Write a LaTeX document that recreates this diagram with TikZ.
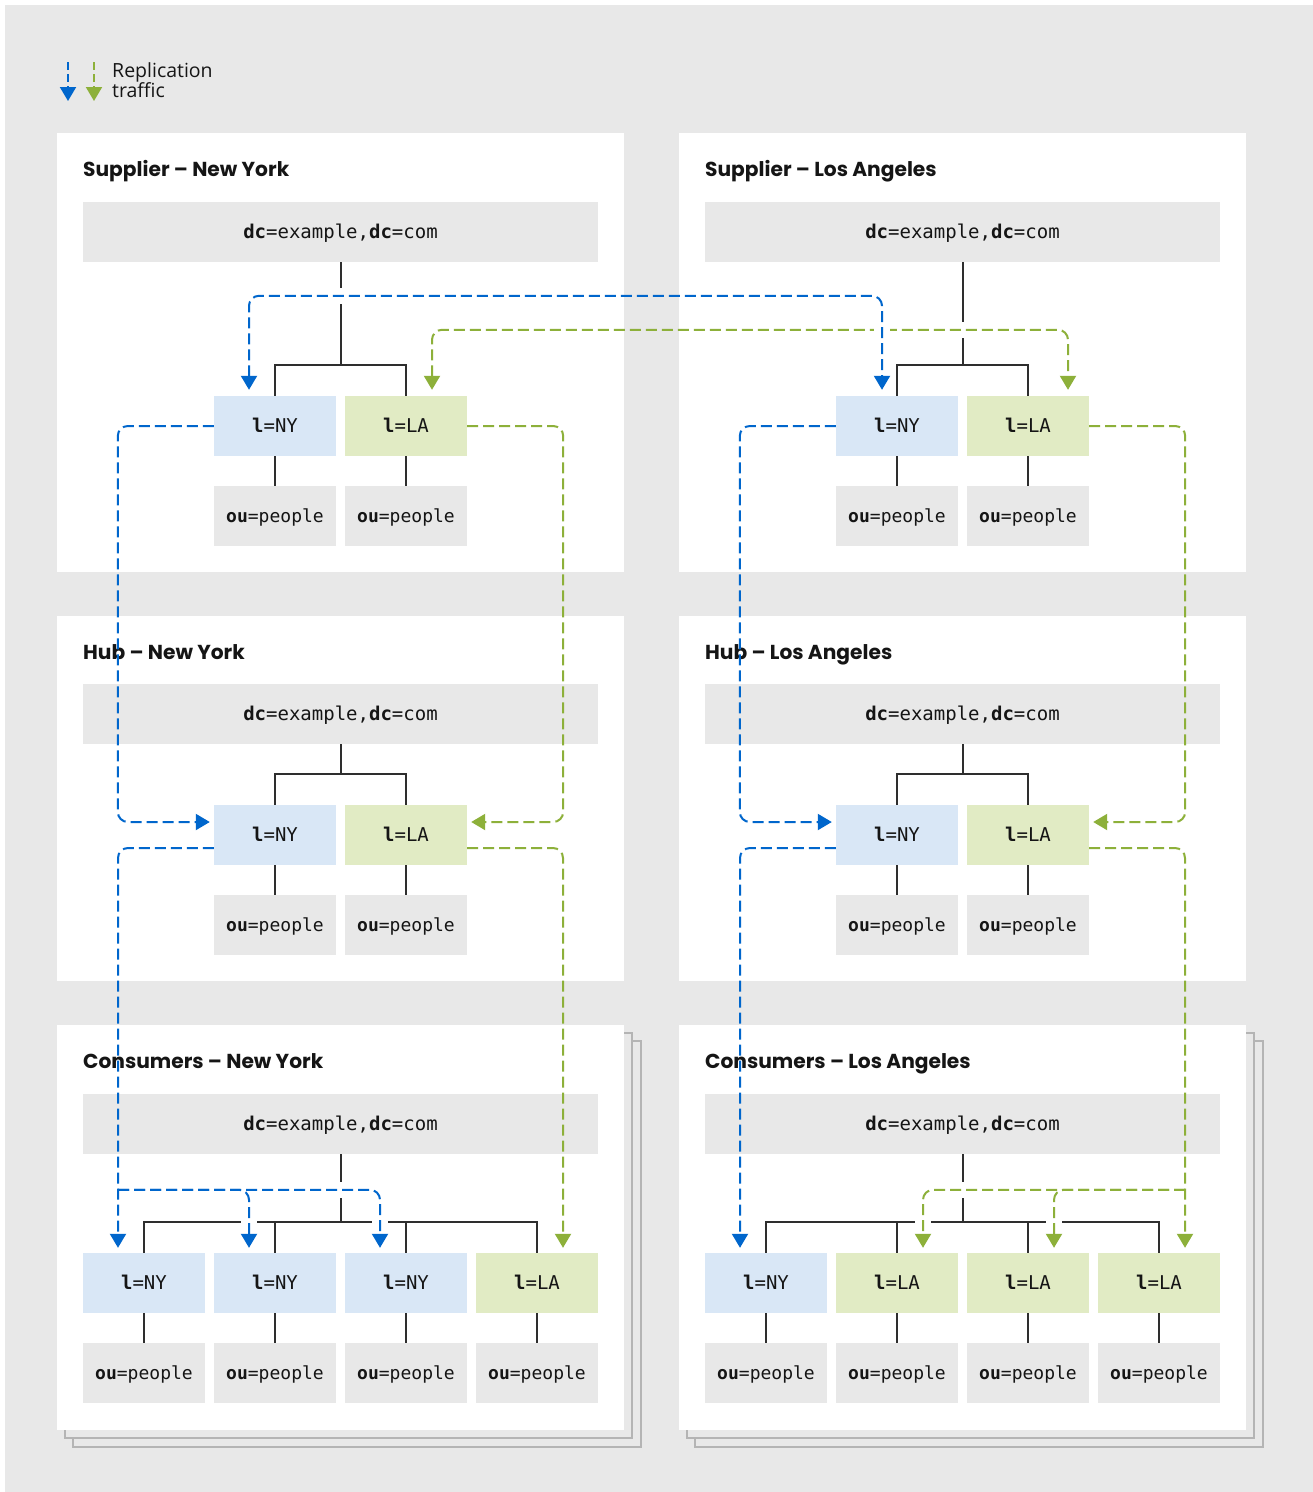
\documentclass[tikz,border=0pt]{standalone}
\usepackage{fontspec}
\setmainfont{Open Sans}
\newfontfamily\monof{DejaVu Sans Mono}
\newfontfamily\titlef{Poppins}
\usetikzlibrary{arrows.meta,calc}
\definecolor{bgc}{HTML}{E8E8E8}
\definecolor{boxc}{HTML}{E8E8E8}
\definecolor{lblue}{HTML}{D9E7F6}
\definecolor{lgreen}{HTML}{E1EBC4}
\definecolor{rblue}{HTML}{0066CC}
\definecolor{rgreen}{HTML}{8DB03A}
\definecolor{txt}{HTML}{151515}
\definecolor{treec}{HTML}{2E2E2E}
\definecolor{shadc}{HTML}{B4B4B4}
\newcommand{\kv}[2]{\textbf{#1}=#2}
\newcommand{\dctext}{\kv{dc}{example},\kv{dc}{com}}
\newcommand{\outext}{\kv{ou}{people}}
\begin{document}
\begin{tikzpicture}[x=1pt,y=-1pt,
  >={Triangle[length=14pt,width=16pt]},
  box/.style={inner sep=0pt, text height=15pt, text depth=3pt, font=\monof\fontsize{19}{22}\selectfont, text=txt, minimum height=60pt},
  dcbox/.style={box, fill=boxc, minimum width=515pt},
  nybox/.style={box, fill=lblue, minimum width=122pt},
  labox/.style={box, fill=lgreen, minimum width=122pt},
  oubox/.style={box, fill=boxc, minimum width=122pt, font=\monof\fontsize{18}{22}\selectfont},
  title/.style={anchor=base west, inner sep=0pt, font=\titlef\fontsize{20.2}{24}\selectfont\bfseries, text=txt},
  legend/.style={anchor=base west, inner sep=0pt, font=\fontsize{19.5}{22}\selectfont, text=txt},
  tree/.style={draw=treec, line width=2pt},
  rep/.style={line width=2pt, dash pattern=on 11pt off 5pt, rounded corners=10pt},
  repb/.style={rep, draw=rblue},
  repg/.style={rep, draw=rgreen},
  panel/.style={fill=white},
  shadow/.style={fill=bgc, draw=shadc, line width=2pt},
  gap/.style={fill=white}
]
\useasboundingbox (0,0) rectangle (1313,1492);
\fill[white] (0,0) rectangle (1313,1492);
\fill[bgc] (5,5) rectangle (1313,1492);

% legend
\coordinate (lgb1) at (68,62); \coordinate (lgb2) at (68,101);
\coordinate (lgg1) at (94,62); \coordinate (lgg2) at (94,101);
\draw[repb, dash pattern=on 8pt off 4pt, rounded corners=0pt, ->] (lgb1) -- (lgb2);
\draw[repg, dash pattern=on 8pt off 4pt, rounded corners=0pt, ->] (lgg1) -- (lgg2);
\node[legend] (leg1) at (112,77) {Replication};
\node[legend] (leg2) at (112,97) {traffic};

\foreach \p/\dx/\city in {ny/0/New York,la/622/Los Angeles}{
  % supplier
  \fill[panel] (57+\dx,133) rectangle (624+\dx,572);
  \node[title] (st\p) at (83+\dx,176) {Supplier – \city};
  \node[dcbox] (sdc\p) at (340.5+\dx,232) {\dctext};
  \node[nybox] (s\p1) at (275+\dx,426) {\kv{l}{NY}};
  \node[labox] (s\p2) at (406+\dx,426) {\kv{l}{LA}};
  \node[oubox] (so\p1) at (275+\dx,516) {\outext};
  \node[oubox] (so\p2) at (406+\dx,516) {\outext};
  \coordinate (sj\p) at (340.5+\dx,365);
  \draw[tree] (sdc\p.south) -- (sj\p);
  \draw[tree] (s\p1.north) |- (sj\p) -| (s\p2.north);
  \draw[tree] (s\p1.south) -- (so\p1.north);
  \draw[tree] (s\p2.south) -- (so\p2.north);
  % hub
  \fill[panel] (57+\dx,616) rectangle (624+\dx,981);
  \node[title] (ht\p) at (83+\dx,659) {Hub – \city};
  \node[dcbox] (hdc\p) at (340.5+\dx,714) {\dctext};
  \node[nybox] (h\p1) at (275+\dx,835) {\kv{l}{NY}};
  \node[labox] (h\p2) at (406+\dx,835) {\kv{l}{LA}};
  \node[oubox] (ho\p1) at (275+\dx,925) {\outext};
  \node[oubox] (ho\p2) at (406+\dx,925) {\outext};
  \coordinate (hj\p) at (340.5+\dx,774);
  \draw[tree] (hdc\p.south) -- (hj\p);
  \draw[tree] (h\p1.north) |- (hj\p) -| (h\p2.north);
  \draw[tree] (h\p1.south) -- (ho\p1.north);
  \draw[tree] (h\p2.south) -- (ho\p2.north);
  % consumers
  \draw[shadow] (73+\dx,1041) rectangle (641+\dx,1447);
  \draw[shadow] (65+\dx,1033) rectangle (632+\dx,1438);
  \fill[panel] (57+\dx,1025) rectangle (624+\dx,1430);
  \node[title] (ct\p) at (83+\dx,1068) {Consumers – \city};
  \node[dcbox] (cdc\p) at (340.5+\dx,1124) {\dctext};
  \foreach \i/\x in {1/144,2/275,3/406,4/537}{
    \node[oubox] (co\p\i) at (\x+\dx,1373) {\outext};
  }
}

% consumer l boxes
\node[nybox] (cny1) at (144,1283) {\kv{l}{NY}};
\node[nybox] (cny2) at (275,1283) {\kv{l}{NY}};
\node[nybox] (cny3) at (406,1283) {\kv{l}{NY}};
\node[labox] (cny4) at (537,1283) {\kv{l}{LA}};
\node[nybox] (cla1) at (766,1283) {\kv{l}{NY}};
\node[labox] (cla2) at (897,1283) {\kv{l}{LA}};
\node[labox] (cla3) at (1028,1283) {\kv{l}{LA}};
\node[labox] (cla4) at (1159,1283) {\kv{l}{LA}};

\foreach \p/\dx in {ny/0,la/622}{
  \coordinate (cj\p) at (340.5+\dx,1222);
  \draw[tree] (cdc\p.south) -- (cj\p);
  \draw[tree] (c\p1.north) |- (cj\p) -| (c\p4.north);
  \draw[tree] (c\p2.north) -- (c\p2.north |- cj\p);
  \draw[tree] (c\p3.north) -- (c\p3.north |- cj\p);
  \foreach \i in {1,2,3,4}{
    \draw[tree] (c\p\i.south) -- (co\p\i.north);
  }
}

% gaps where replication lines pass over tree lines
\fill[gap] (336,288) rectangle (345,304);
\fill[gap] (958,322) rectangle (967,338);
\fill[gap] (336,1182) rectangle (345,1198);
\fill[gap] (958,1182) rectangle (967,1198);
\fill[gap] (241,1218) rectangle (257,1226);
\fill[gap] (372,1218) rectangle (388,1226);
\fill[gap] (915,1218) rectangle (931,1226);
\fill[gap] (1046,1218) rectangle (1062,1226);

% supplier cross replication
\draw[repg,<->] ($(sny2.north)+(26,-6)$) -- ++(0,-60) -| ($(sla2.north)+(40,-6)$);
\fill[gap] (874,326) rectangle (890,335);
\draw[repb,<->] ($(sny1.north)+(-26,-6)$) -- ++(0,-94) -| ($(sla1.north)+(-15,-6)$);

\foreach \p in {ny,la}{
  % supplier to hub
  \draw[repb,->] (s\p1.west) -- ++(-96,0) |- ($(h\p1.west)+(-4,-13)$);
  \draw[repg,->] (s\p2.east) -- ++(96,0) |- ($(h\p2.east)+(4,-13)$);
}
% hub to consumers, New York
\draw[repb,->] ($(hny1.west)+(0,13)$) -| ($(cny1.north)+(-26,-5)$);
\draw[repb,->] ($(cny1.north)+(-26,-63)$) -| ($(cny2.north)+(-26,-5)$);
\draw[repb,->] ($(cny1.north)+(-26,-63)$) -| ($(cny3.north)+(-26,-5)$);
\draw[repg,->] ($(hny2.east)+(0,13)$) -| ($(cny4.north)+(26,-5)$);
% hub to consumers, Los Angeles
\draw[repb,->] ($(hla1.west)+(0,13)$) -| ($(cla1.north)+(-26,-5)$);
\draw[repg,->] ($(hla2.east)+(0,13)$) -| ($(cla4.north)+(26,-5)$);
\draw[repg,->] ($(cla4.north)+(26,-63)$) -| ($(cla2.north)+(26,-5)$);
\draw[repg,->] ($(cla4.north)+(26,-63)$) -| ($(cla3.north)+(26,-5)$);
\end{tikzpicture}
\end{document}
